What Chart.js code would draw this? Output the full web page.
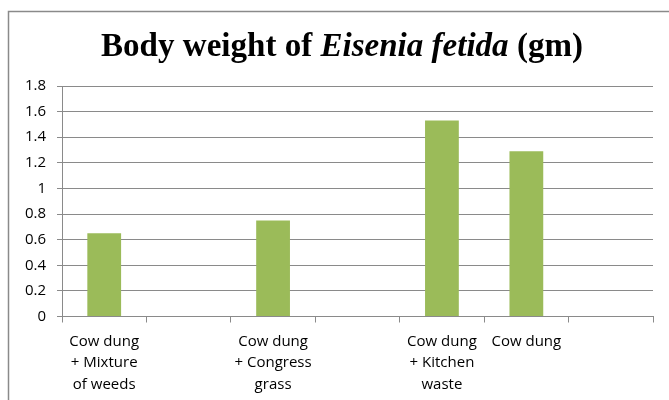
<!DOCTYPE html>
<html>
<head>
<meta charset="utf-8">
<script src="https://cdn.jsdelivr.net/npm/chart.js@4"></script>
<style>
  html, body { margin: 0; padding: 0; background: #ffffff; }
  #wrap { position: relative; width: 669px; height: 400px; }
</style>
</head>
<body>
<div id="wrap"><canvas id="weightChart" width="669" height="400"></canvas></div>
<script>
// substrate treatments (empty slots keep the spacing between groups)
const categories = [
    ['Cow dung', '+ Mixture', 'of weeds'],
    '',
    ['Cow dung', '+ Congress', 'grass'],
    '',
    ['Cow dung', '+ Kitchen', 'waste'],
    'Cow dung',
    ''
];
const bodyWeight = [0.65, null, 0.75, null, 1.53, 1.29, null];
const yTicks = [0, 0.2, 0.4, 0.6, 0.8, 1, 1.2, 1.4, 1.6, 1.8];

// title with the species name in italics, plus the outer frame
const titleParts = [
    { text: 'Body weight of ', italic: false },
    { text: 'Eisenia fetida', italic: true },
    { text: ' (gm)', italic: false }
];

const frameAndTitle = {
    id: 'frameAndTitle',
    afterDraw(chart) {
        const c = chart.ctx;
        c.save();
        c.strokeStyle = '#8a8a8a';
        c.lineWidth = 1.5;
        c.beginPath();
        c.moveTo(8.5, 400);
        c.lineTo(8.5, 11.5);
        c.lineTo(669, 11.5);
        c.stroke();

        const fontFor = p => (p.italic ? 'italic ' : '') + 'bold 34px "Liberation Serif", "Times New Roman", serif';
        const squeeze = 0.972;
        let total = 0;
        titleParts.forEach(p => {
            c.font = fontFor(p);
            p.w = c.measureText(p.text).width;
            total += p.w;
        });
        c.translate(342 - total * squeeze / 2, 56);
        c.scale(squeeze, 1);
        let x = 0;
        c.fillStyle = '#000000';
        c.textBaseline = 'alphabetic';
        c.textAlign = 'left';
        titleParts.forEach(p => {
            c.font = fontFor(p);
            c.fillText(p.text, x, 0);
            x += p.w;
        });
        c.restore();
    }
};

const ctx = document.getElementById('weightChart').getContext('2d');
new Chart(ctx, {
    type: 'bar',
    data: {
        labels: categories,
        datasets: [{
            data: bodyWeight,
            backgroundColor: '#9bbb59',
            borderWidth: 0,
            barPercentage: 0.4,
            categoryPercentage: 1
        }]
    },
    options: {
        responsive: false,
        animation: false,
        layout: { padding: { top: 86, right: 16, bottom: 0, left: 0 } },
        plugins: {
            legend: { display: false },
            title: { display: false },
            tooltip: { enabled: false }
        },
        scales: {
            x: {
                grid: {
                    offset: true,
                    drawOnChartArea: false,
                    drawTicks: true,
                    tickLength: 6,
                    color: '#8a8a8a'
                },
                border: { color: '#8a8a8a' },
                ticks: {
                    color: '#000000',
                    maxRotation: 0,
                    autoSkip: false,
                    padding: 8,
                    font: { family: '"Open Sans", sans-serif', size: 15, lineHeight: 1.45 }
                },
                afterFit(scale) { scale.height = 83.5; }
            },
            y: {
                min: 0,
                max: 1.8,
                afterBuildTicks(scale) {
                    scale.ticks = yTicks.map(v => ({ value: v }));
                },
                grid: {
                    color: '#8a8a8a',
                    tickLength: 5
                },
                border: { color: '#8a8a8a' },
                ticks: {
                    color: '#000000',
                    padding: 11,
                    font: { family: '"Open Sans", sans-serif', size: 15 },
                    callback: v => String(v)
                },
                afterFit(scale) { scale.width = 62; }
            }
        }
    },
    plugins: [frameAndTitle]
});
</script>
</body>
</html>
